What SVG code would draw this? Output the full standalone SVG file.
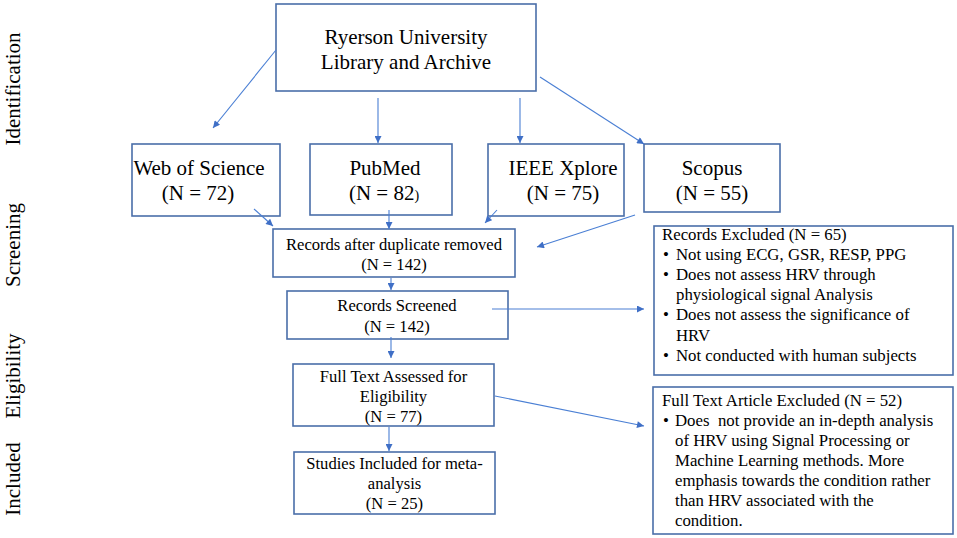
<svg xmlns="http://www.w3.org/2000/svg" width="957" height="538" viewBox="0 0 957 538">
<style>
  .box { fill: #ffffff; stroke: #4a6ea9; stroke-width: 1.6; }
  .t { font-family: "Liberation Serif", "Times New Roman", serif; fill: #000; }
  .big { font-size: 21px; }
  .mid { font-size: 16.6px; }
  .sm { font-size: 16.8px; }
  .c { text-anchor: middle; }
  .side { font-family: "Liberation Serif", "Times New Roman", serif; font-size: 21px; text-anchor: middle; fill: #000; }
  .conn line { stroke: #4a7fd4; stroke-width: 1.1; fill: none; marker-end: url(#ah); }
</style>
<defs>
  <marker id="ah" viewBox="0 0 10 10" refX="10" refY="5" markerWidth="8" markerHeight="7" markerUnits="userSpaceOnUse" orient="auto">
    <path d="M0,0 L10,5 L0,10 z" fill="#3f6fc6"/>
  </marker>
</defs>
<rect width="957" height="538" fill="#ffffff"/>

<g id="side-labels">
  <text class="side" transform="translate(20,89) rotate(-90)">Identification</text>
  <text class="side" transform="translate(20,245) rotate(-90)">Screening</text>
  <text class="side" transform="translate(20,376) rotate(-90)">Eligibility</text>
  <text class="side" transform="translate(20,479) rotate(-90)">Included</text>
</g>

<g id="node-ryerson">
  <rect class="box" x="276" y="4" width="260" height="87"/>
  <text class="t big c" x="406" y="44">Ryerson University</text>
  <text class="t big c" x="406" y="69">Library and Archive</text>
</g>

<g id="node-wos">
  <rect class="box" x="132" y="144" width="148" height="72"/>
  <text class="t big c" x="199" y="175">Web of Science</text>
  <text class="t big c" x="198" y="200">(N = 72)</text>
</g>

<g id="node-pubmed">
  <rect class="box" x="310" y="144" width="142" height="71"/>
  <text class="t big c" x="385" y="175">PubMed</text>
  <text class="t big c" x="384" y="200">(N = 82<tspan font-size="14">)</tspan></text>
</g>

<g id="node-ieee">
  <rect class="box" x="488" y="144" width="136" height="72"/>
  <text class="t big c" x="563" y="175">IEEE Xplore</text>
  <text class="t big c" x="563" y="200">(N = 75)</text>
</g>

<g id="node-scopus">
  <rect class="box" x="644" y="144" width="136" height="68"/>
  <text class="t big c" x="712" y="175">Scopus</text>
  <text class="t big c" x="712" y="200">(N = 55)</text>
</g>

<g id="node-duplicates">
  <rect class="box" x="273" y="229" width="242" height="48"/>
  <text class="t mid c" x="394" y="250">Records after duplicate removed</text>
  <text class="t mid c" x="394" y="270">(N = 142)</text>
</g>

<g id="node-screened">
  <rect class="box" x="287" y="291" width="221" height="48"/>
  <text class="t mid c" x="397" y="311">Records Screened</text>
  <text class="t mid c" x="397" y="332">(N = 142)</text>
</g>

<g id="node-fulltext">
  <rect class="box" x="293" y="364" width="201" height="62"/>
  <text class="t mid c" x="393.5" y="382">Full Text Assessed for</text>
  <text class="t mid c" x="393.5" y="402">Eligibility</text>
  <text class="t mid c" x="393.5" y="422">(N = 77)</text>
</g>

<g id="node-included">
  <rect class="box" x="294" y="452" width="201" height="62"/>
  <text class="t mid c" x="394.5" y="469">Studies Included for meta-</text>
  <text class="t mid c" x="394.5" y="489">analysis</text>
  <text class="t mid c" x="394.5" y="509">(N = 25)</text>
</g>

<g id="node-records-excluded">
  <rect class="box" x="654" y="226" width="299" height="149"/>
  <text class="t sm" x="662" y="240">Records Excluded (N = 65)</text>
  <text class="t sm" x="663" y="260">•</text><text class="t sm" x="676" y="260">Not using ECG, GSR, RESP, PPG</text>
  <text class="t sm" x="663" y="280">•</text><text class="t sm" x="676" y="280">Does not assess HRV through</text>
  <text class="t sm" x="676" y="300">physiological signal Analysis</text>
  <text class="t sm" x="663" y="320">•</text><text class="t sm" x="676" y="320">Does not assess the significance of</text>
  <text class="t sm" x="676" y="341">HRV</text>
  <text class="t sm" x="663" y="361">•</text><text class="t sm" x="676" y="361">Not conducted with human subjects</text>
</g>

<g id="node-fulltext-excluded">
  <rect class="box" x="653" y="387" width="300" height="147"/>
  <text class="t sm" x="662" y="406">Full Text Article Excluded (N = 52)</text>
  <text class="t sm" x="663" y="426">•</text><text class="t sm" x="675" y="426" xml:space="preserve">Does  not provide an in-depth analysis</text>
  <text class="t sm" x="675" y="446">of HRV using Signal Processing or</text>
  <text class="t sm" x="675" y="466">Machine Learning methods. More</text>
  <text class="t sm" x="675" y="486">emphasis towards the condition rather</text>
  <text class="t sm" x="675" y="506">than HRV associated with the</text>
  <text class="t sm" x="675" y="526">condition.</text>
</g>

<g id="connectors" class="conn">
  <line x1="276" y1="50" x2="213" y2="128"/>
  <line x1="378" y1="98" x2="378" y2="143"/>
  <line x1="520" y1="98" x2="520" y2="143"/>
  <line x1="540" y1="77" x2="644" y2="144"/>
  <line x1="254" y1="209" x2="273" y2="226"/>
  <line x1="389" y1="210" x2="389" y2="229"/>
  <line x1="497" y1="210" x2="485" y2="223"/>
  <line x1="635" y1="215" x2="537" y2="247"/>
  <line x1="391" y1="278" x2="391" y2="290"/>
  <line x1="492" y1="309" x2="644" y2="309"/>
  <line x1="391" y1="337" x2="391" y2="358"/>
  <line x1="495" y1="396" x2="644" y2="426"/>
  <line x1="389" y1="427" x2="389" y2="451"/>
</g>
</svg>
